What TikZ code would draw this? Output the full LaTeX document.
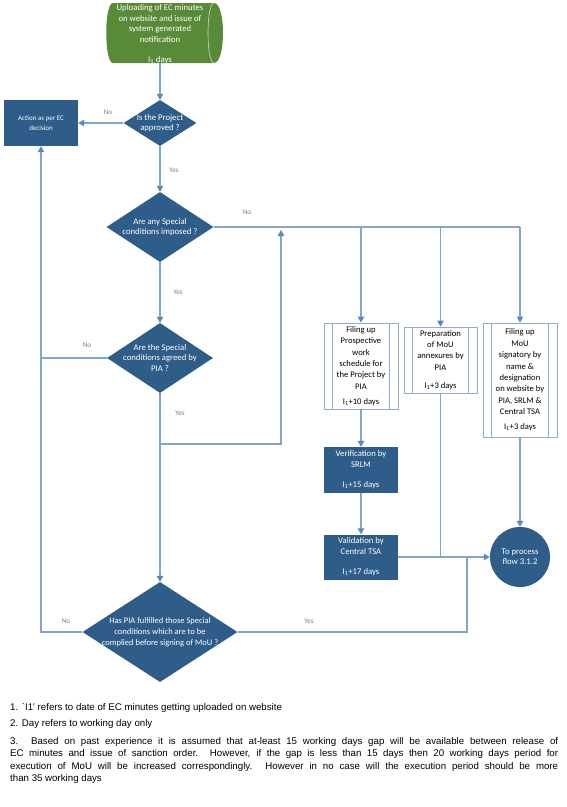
\documentclass[tikz,border=0pt]{standalone}
\usepackage{fontspec}
\setmainfont{Carlito}
\newfontfamily\notefont{Liberation Sans}
\usetikzlibrary{shapes.geometric,arrows.meta,calc}
\definecolor{dblue}{RGB}{47,93,137}
\definecolor{egreen}{RGB}{88,138,56}
\definecolor{lineblue}{RGB}{130,165,205}
\definecolor{tipblue}{RGB}{90,135,195}
\definecolor{boxedge}{RGB}{143,172,206}
\definecolor{lblgray}{RGB}{120,130,140}
\begin{document}
\begin{tikzpicture}[x=1pt,y=-1pt,
  font=\fontsize{8.7}{10.4}\selectfont,
  conn/.style={draw=lineblue, line width=1.1pt},
  arr/.style={conn, -{Triangle[width=6.5pt,length=6pt,color=tipblue]}},
  dia/.style={diamond, fill=dblue, inner sep=0pt},
  wtext/.style={text=white, align=center, inner sep=0pt},
  dbox/.style={rectangle, fill=dblue, text=white, align=center, inner sep=0pt, minimum width=74pt},
  pbox/.style={rectangle, draw=boxedge, fill=white, line width=0.9pt, align=center, inner sep=0pt, minimum width=74pt, font=\fontsize{8.6}{11.4}\selectfont},
  pline/.style={draw=boxedge, line width=0.9pt},
  lbl/.style={text=lblgray, inner sep=0pt, font=\fontsize{7.2}{8}\selectfont},
  notestyle/.style={inner sep=0pt, font=\notefont\fontsize{9.7}{12.5}\selectfont},
]
\useasboundingbox[fill=white] (0,0) rectangle (567,807);

% top storage shape
\fill[egreen] (113,3) -- (214,3) .. controls (226,3) and (226,63) .. (214,63) -- (113,63)
  .. controls (104,63) and (104,3) .. (113,3) -- cycle;
\draw[white!70!egreen, line width=0.6pt] (214,3) .. controls (206,3) and (206,63) .. (214,63);
\node[wtext] (up) at (160,34.5) {Uploading of EC minutes\\on website and issue of\\system generated\\notification\\[10.4pt]I\textsubscript{1} days};
\coordinate (upb) at (160,63);

% decisions
\node[dia, minimum width=73pt, minimum height=46pt] (d1) at (160,123) {};
\node[wtext] (t1) at (d1) {Is the Project\\approved ?};
\node[dia, minimum width=107pt, minimum height=70pt] (d2) at (160,227) {};
\node[wtext] (t2) at (d2) {Are any Special\\conditions imposed ?};
\node[dia, minimum width=106pt, minimum height=70pt] (d3) at (160,358) {};
\node[wtext] (t3) at (d3) {Are the Special\\conditions agreed by\\PIA ?};
\node[dia, minimum width=155pt, minimum height=100pt] (d4) at (160,632) {};
\node[wtext, font=\fontsize{8.5}{11}\selectfont] (t4) at (d4) {Has PIA fulfilled those Special\\conditions which are to be\\complied before signing of MoU ?};

% boxes
\node[dbox, minimum height=46pt, font=\fontsize{7}{9.5}\selectfont] (act) at (41,123) {Action as per EC\\decision};
\node[pbox, minimum height=86pt] (bA) at (361,366) {Filing up\\Prospective\\work\\schedule for\\the Project by\\PIA\\[3.6pt]I\textsubscript{1}+10 days};
\node[pbox, minimum height=66pt, minimum width=73pt] (bB) at (440.5,360) {Preparation\\of MoU\\annexures by\\PIA\\[6.6pt]I\textsubscript{1}+3 days};
\node[pbox, minimum height=114pt] (bC) at (520,380) {Filing up\\MoU\\signatory by\\name \&\\designation\\on website by\\PIA, SRLM \&\\Central TSA\\[3.6pt]I\textsubscript{1}+3 days};
\foreach \b in {bA,bB,bC}{
  \draw[pline] ($(\b.north west)+(9,0)$) -- ($(\b.south west)+(9,0)$);
  \draw[pline] ($(\b.north east)+(-9,0)$) -- ($(\b.south east)+(-9,0)$);
}
\node[dbox, minimum height=46pt] (bD) at (361,470) {Verification by\\SRLM\\[10.4pt]I\textsubscript{1}+15 days};
\node[dbox, minimum height=45pt] (bE) at (361,557) {Validation by\\Central TSA\\[10.4pt]I\textsubscript{1}+17 days};
\node[circle, fill=dblue, text=white, align=center, inner sep=0pt, minimum size=60pt] (circ) at (520,557) {To process\\flow 3.1.2};

% connectors
\draw[arr] (upb) -- (d1.north);
\draw[arr] (d1.west) -- (act.east);
\draw[arr] (d1.south) -- (d2.north);
\coordinate (jA) at (bA.north |- d2.east);
\coordinate (jB) at (bB.north |- d2.east);
\coordinate (jC) at (bC.north |- d2.east);
\draw[conn] (d2.east) -- (jC);
\draw[arr] (jA) -- (bA.north);
\draw[arr] (jB) -- (bB.north);
\draw[arr] (jC) -- (bC.north);
\draw[arr] (d2.south) -- (d3.north);
\draw[conn] (d3.west) -- (d3.west -| act.south);
\coordinate (lp) at (281,444);
\draw[arr] (d3.south) |- (lp) -- ($(lp |- d2.east)+(0,3)$);
\draw[arr] (d3.south) -- (d4.north);
\draw[arr] (d4.west) -- (d4.west -| act.south) -- (act.south);
\draw[arr] (bA) -- (bD);
\draw[arr] (bD) -- (bE);
\draw[arr] (bE.east) -- (circ.west);
\draw[conn] (bB.south) -- (bB.south |- circ.west);
\draw[arr] (bC.south) -- (circ.north);
\coordinate (yr) at (467,632);
\draw[conn] (d4.east) -- (yr) -- (yr |- circ.west);

% labels
\node[lbl] (l1) at (108,112) {No};
\node[lbl] (l2) at (174,170) {Yes};
\node[lbl] (l3) at (247,212) {No};
\node[lbl] (l4) at (178,292) {Yes};
\node[lbl] (l5) at (87,345) {No};
\node[lbl] (l6) at (180,413) {Yes};
\node[lbl] (l7) at (66,621) {No};
\node[lbl] (l8) at (309,621) {Yes};

% notes
\node[notestyle, anchor=base west] (n1) at (10,710.5) {1. `I1' refers to date of EC minutes getting uploaded on website};
\node[notestyle, anchor=base west] (n2) at (10,726.5) {2. Day refers to working day only};
\node[notestyle, anchor=north west, text width=548pt, align=justify] (n3) at (10,737) {3. Based on past experience it is assumed that at-least 15 working days gap will be available between release of\linebreak EC minutes and issue of sanction order. However, if the gap is less than 15 days then 20 working days period for\linebreak execution of MoU will be increased correspondingly. However in no case will the execution period should be more\linebreak than 35 working days};
\end{tikzpicture}
\end{document}
